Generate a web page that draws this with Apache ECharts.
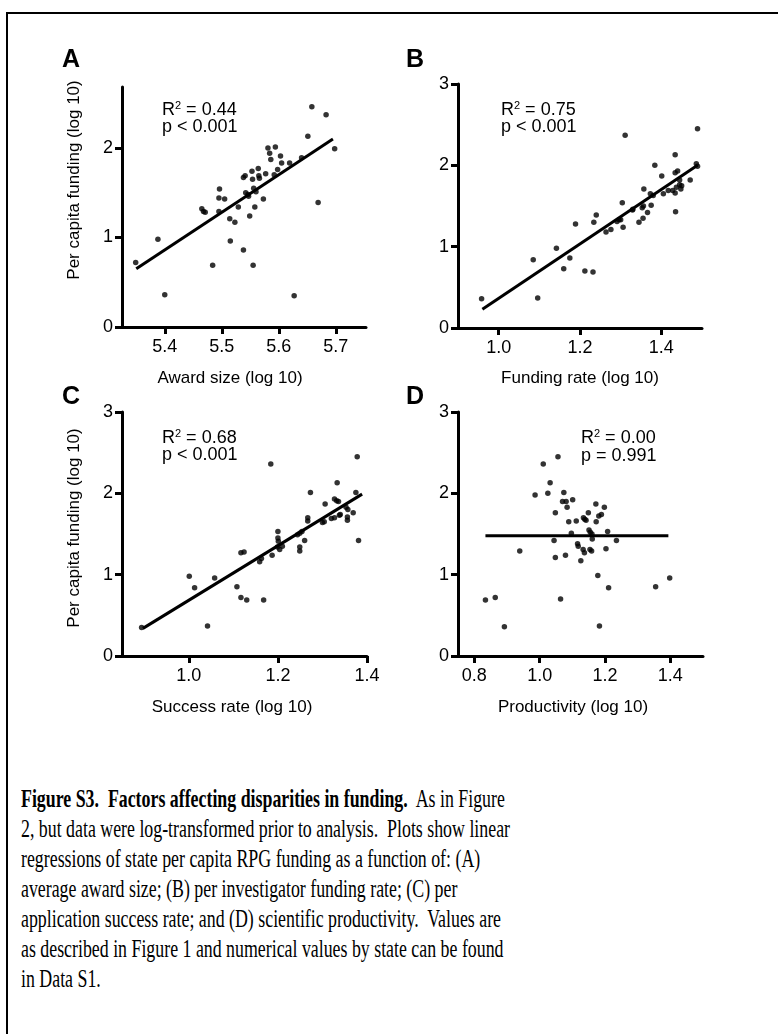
<!DOCTYPE html>
<html>
<head>
<meta charset="utf-8">
<title>Figure S3</title>
<script src="https://cdn.jsdelivr.net/npm/echarts@6/dist/echarts.min.js"></script>
<style>
  body { margin: 0; background: #fff; }
  #frame { position: absolute; left: 6px; top: 12px; width: 900px; height: 1100px;
           border-left: 2px solid #000; border-top: 2px solid #000; }
  #main { position: absolute; left: 0; top: 0; width: 778px; height: 740px; }
  #cap { position: absolute; left: 21px; top: 784px; font-family: 'Liberation Serif', serif;
         font-size: 25px; line-height: 30px; white-space: pre; color: #000; transform-origin: 0 0; }
  #cap span.l { display: inline-block; }
</style>
</head>
<body>
<div id="frame"></div>
<div id="main"></div>
<div id="cap"><span class="l"><b>Figure S3.  Factors affecting disparities in funding.</b>  As in Figure</span>
<span class="l" id="ref">2, but data were log-transformed prior to analysis.  Plots show linear</span>
<span class="l">regressions of state per capita RPG funding as a function of: (A)</span>
<span class="l">average award size; (B) per investigator funding rate; (C) per</span>
<span class="l">application success rate; and (D) scientific productivity.  Values are</span>
<span class="l">as described in Figure 1 and numerical values by state can be found</span>
<span class="l">in Data S1.</span></div>
<script type="text/javascript">
// A: award size vs per capita funding (log 10)
var awardX = [5.349,5.388,5.400,5.484,5.465,5.468,5.471,5.496,5.495,5.495,5.505,5.514,5.515,5.523,5.529,5.538,5.541,5.538,5.542,5.546,5.549,5.553,5.554,5.556,5.558,5.560,5.564,5.565,5.566,5.555,5.573,5.577,5.581,5.584,5.586,5.594,5.592,5.598,5.603,5.605,5.619,5.627,5.640,5.651,5.658,5.669,5.683,5.698,5.547];
var awardY = [0.72,0.98,0.36,0.69,1.32,1.29,1.28,1.54,1.44,1.29,1.43,1.21,0.96,1.17,1.34,1.67,1.69,0.86,1.50,1.48,1.24,1.74,1.65,1.55,1.34,1.51,1.77,1.69,1.66,0.69,1.43,1.71,2.00,1.94,1.87,2.01,1.70,1.76,1.91,1.83,1.83,0.35,1.89,2.13,2.46,1.39,2.37,1.99,1.46];
var awardFitX = [5.350, 5.695];
var awardFitY = [0.65, 2.10];

// B: funding rate
var rateX = [0.958,1.085,1.096,1.142,1.160,1.175,1.189,1.212,1.232,1.234,1.240,1.264,1.276,1.291,1.296,1.300,1.304,1.306,1.311,1.329,1.345,1.355,1.353,1.356,1.357,1.366,1.375,1.373,1.384,1.401,1.405,1.417,1.428,1.434,1.434,1.440,1.434,1.435,1.437,1.445,1.448,1.450,1.445,1.471,1.489,1.486,1.489,1.330,1.380];
var rateY = [0.36,0.84,0.37,0.98,0.73,0.86,1.28,0.70,0.69,1.30,1.39,1.18,1.21,1.31,1.33,1.33,1.54,1.24,2.37,1.45,1.30,1.35,1.48,1.50,1.71,1.42,1.51,1.65,2.00,1.87,1.65,1.69,1.69,2.13,1.91,1.93,1.66,1.43,1.73,1.76,1.71,1.75,1.82,1.82,2.45,2.02,1.99,1.46,1.63];
var rateFitX = [0.960, 1.489];
var rateFitY = [0.23, 2.00];

// C: success rate
var successX = [0.894,1.001,1.013,1.042,1.058,1.108,1.117,1.124,1.117,1.130,1.159,1.163,1.168,1.184,1.187,1.200,1.200,1.201,1.199,1.204,1.244,1.249,1.254,1.249,1.249,1.260,1.267,1.267,1.273,1.300,1.304,1.306,1.320,1.327,1.333,1.327,1.332,1.336,1.338,1.353,1.356,1.356,1.357,1.369,1.378,1.375,1.381,1.210,1.340];
var successY = [0.35,0.98,0.84,0.37,0.96,0.85,1.27,1.28,0.72,0.69,1.16,1.20,0.69,2.36,1.24,1.53,1.45,1.41,1.34,1.31,1.49,1.51,1.53,1.34,1.29,1.42,1.70,1.66,2.01,1.64,1.65,1.87,1.69,1.70,2.13,1.93,1.91,1.90,1.73,1.83,1.71,1.67,1.80,1.76,2.45,2.01,1.42,1.35,1.74];
var successFitX = [0.897, 1.389];
var successFitY = [0.34, 1.99];

// D: productivity
var prodX = [0.834,0.864,0.892,0.939,0.986,1.011,1.025,1.032,1.056,1.044,1.048,1.048,1.064,1.074,1.070,1.081,1.084,1.089,1.079,1.101,1.097,1.112,1.116,1.118,1.126,1.134,1.138,1.142,1.133,1.137,1.149,1.151,1.155,1.154,1.159,1.160,1.161,1.172,1.173,1.178,1.183,1.181,1.189,1.198,1.203,1.208,1.211,1.235,1.355,1.398];
var prodY = [0.69,0.72,0.36,1.29,1.98,2.36,2.00,2.13,2.45,1.42,1.76,1.21,0.70,2.01,1.90,1.90,1.83,1.65,1.24,1.92,1.51,1.66,1.38,1.35,1.17,1.70,1.68,1.67,1.31,1.27,1.76,1.55,1.52,1.31,1.29,1.50,1.44,1.87,1.65,0.99,0.37,1.72,1.74,1.83,1.32,1.53,0.84,1.42,0.85,0.96];
var prodFitX = [0.834, 1.394];
var prodFitY = [1.48, 1.48];

// axes
var awardTicks = [5.4, 5.5, 5.6, 5.7];
var rateTicks = [1.0, 1.2, 1.4];
var successTicks = [1.0, 1.2, 1.4];
var prodTicks = [0.8, 1.0, 1.2, 1.4];
var fundTicksA = [0, 1, 2];
var fundTicks = [0, 1, 2, 3];

var xTitles = ['Award size (log 10)', 'Funding rate (log 10)', 'Success rate (log 10)', 'Productivity (log 10)'];
var yTitle = 'Per capita funding (log 10)';
var letters = ['A', 'B', 'C', 'D'];
var r2Text = ['0.44', '0.75', '0.68', '0.00'];
var pText = ['p < 0.001', 'p < 0.001', 'p < 0.001', 'p = 0.991'];

function zip(a, b) {
    return a.map(function (v, i) { return [v, b[i]]; });
}

var myChart = echarts.init(document.getElementById('main'));

var font = 'Liberation Sans, Arial, sans-serif';
var grids = [
    { left: 122, top: 87, width: 244, height: 240 },
    { left: 458, top: 84, width: 244, height: 244 },
    { left: 122, top: 412, width: 245, height: 244 },
    { left: 458, top: 412, width: 245, height: 244 }
];
var xRange = [[5.325, 5.753], [0.9, 1.5], [0.85, 1.4], [0.75, 1.5]];
var xTickSets = [awardTicks, rateTicks, successTicks, prodTicks];
var yMax = [2.68, 3, 3, 3];
var yTickSets = [fundTicksA, fundTicks, fundTicks, fundTicks];
var points = [zip(awardX, awardY), zip(rateX, rateY), zip(successX, successY), zip(prodX, prodY)];
var fits = [zip(awardFitX, awardFitY), zip(rateFitX, rateFitY), zip(successFitX, successFitY), zip(prodFitX, prodFitY)];

var axisLine = { show: true, onZero: false, lineStyle: { color: '#000', width: 3 } };

var xAxes = [], yAxes = [], series = [];
for (var i = 0; i < 4; i++) {
    xAxes.push({
        type: 'value', gridIndex: i, min: xRange[i][0], max: xRange[i][1],
        axisLine: axisLine, splitLine: { show: false },
        axisTick: { show: true, length: 7, customValues: xTickSets[i], lineStyle: { color: '#000', width: 3 } },
        axisLabel: {
            customValues: xTickSets[i], margin: 11, color: '#000', fontSize: 18, fontFamily: font,
            formatter: function (v) { return v.toFixed(1); }
        }
    });
    yAxes.push({
        type: 'value', gridIndex: i, min: 0, max: yMax[i],
        axisLine: axisLine, splitLine: { show: false },
        axisTick: { show: true, length: 7, customValues: yTickSets[i], lineStyle: { color: '#000', width: 3 } },
        axisLabel: { customValues: yTickSets[i], margin: 9, color: '#000', fontSize: 18, fontFamily: font }
    });
    series.push({
        type: 'scatter', xAxisIndex: i, yAxisIndex: i, data: points[i],
        symbolSize: 5.5, itemStyle: { color: '#000' }
    });
    series.push({
        type: 'line', xAxisIndex: i, yAxisIndex: i, data: fits[i],
        symbol: 'none', lineStyle: { color: '#000', width: 3 }
    });
}

// text placed as in the figure
var letterPos = [[62, 60], [406, 60], [62, 397], [406, 397]];
var xTitlePos = [[230, 378], [580, 378], [232, 707], [573, 707]];
var yTitlePos = [[74, 180], [74, 528]];
var notePos = [[162, 110, 127], [501, 110, 127], [162, 438, 455], [581, 438, 456]];

var graphic = [];
for (var k = 0; k < 4; k++) {
    graphic.push({
        type: 'text', x: letterPos[k][0], y: letterPos[k][1],
        style: { text: letters[k], font: 'bold 25px ' + font, fill: '#000', verticalAlign: 'middle' }
    });
    graphic.push({
        type: 'text', x: xTitlePos[k][0], y: xTitlePos[k][1],
        style: { text: xTitles[k], font: '17px ' + font, fill: '#000', align: 'center', verticalAlign: 'middle' }
    });
    graphic.push({
        type: 'text', x: notePos[k][0], y: notePos[k][1],
        style: {
            text: '{r|R}{s|2}{r| = ' + r2Text[k] + '}', verticalAlign: 'middle', fill: '#000',
            rich: {
                r: { fontSize: 18, fontFamily: font, lineHeight: 20, verticalAlign: 'middle' },
                s: { fontSize: 11, fontFamily: font, lineHeight: 11, verticalAlign: 'top' }
            }
        }
    });
    graphic.push({
        type: 'text', x: notePos[k][0], y: notePos[k][2],
        style: { text: pText[k], font: '18px ' + font, fill: '#000', verticalAlign: 'middle' }
    });
}
yTitlePos.forEach(function (p) {
    graphic.push({
        type: 'text', x: p[0], y: p[1], rotation: Math.PI / 2,
        style: { text: yTitle, font: '17px ' + font, fill: '#000', align: 'center', verticalAlign: 'middle' }
    });
});

var option = {
    animation: false,
    grid: grids.map(function (g) { return Object.assign({ outerBoundsMode: 'none', containLabel: false }, g); }),
    xAxis: xAxes,
    yAxis: yAxes,
    series: series,
    graphic: graphic
};
myChart.setOption(option);

// caption: squeeze horizontally like the original
var ref = document.getElementById('ref');
var s = 489 / ref.getBoundingClientRect().width;
document.getElementById('cap').style.transform = 'scaleX(' + s + ')';
</script>
</body>
</html>
